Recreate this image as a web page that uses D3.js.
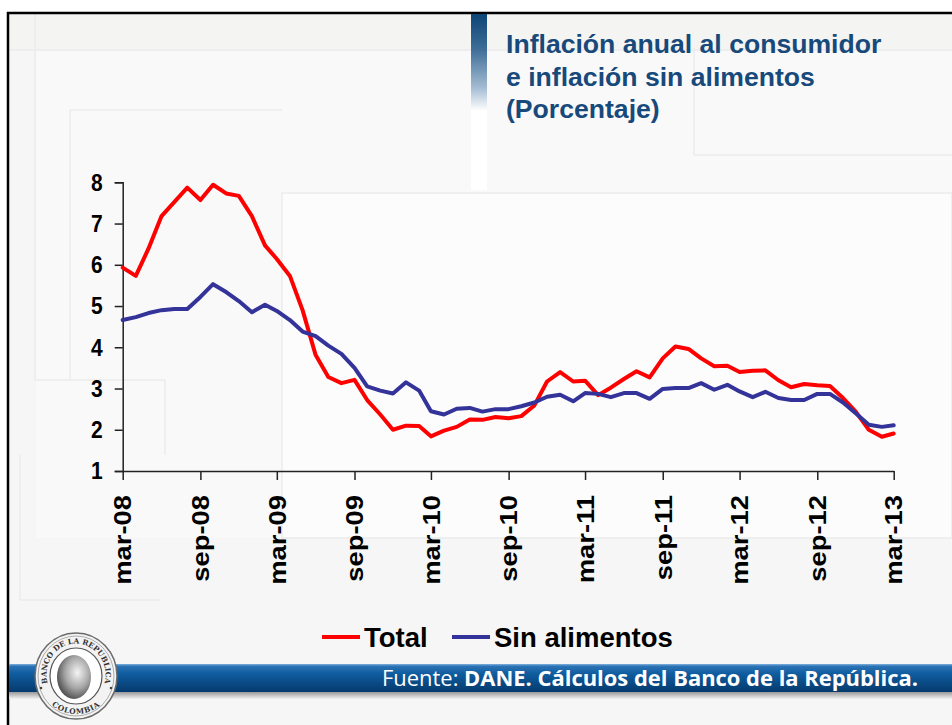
<!DOCTYPE html>
<html>
<head>
<meta charset="utf-8">
<script src="https://cdn.jsdelivr.net/npm/d3@7"></script>
<style>
  html, body { margin: 0; padding: 0; background: #ffffff; }
  svg { display: block; }
</style>
</head>
<body>
<svg id="chart" width="952" height="725"></svg>
<script>
// ---------------- DATA ----------------
const startMonth = new Date(2008, 2, 1);   // mar-08
const endMonth = new Date(2013, 2, 1);     // mar-13
const totalValues = [
  5.93, 5.73, 6.39, 7.18, 7.52, 7.87, 7.57, 7.94, 7.73, 7.67,
  7.18, 6.47, 6.14, 5.73, 4.90, 3.81, 3.28, 3.13, 3.21, 2.72, 2.37, 2.00,
  2.10, 2.09, 1.84, 1.98, 2.07, 2.25, 2.24, 2.31, 2.28, 2.33, 2.59, 3.17,
  3.40, 3.17, 3.19, 2.84, 3.02, 3.23, 3.42, 3.27, 3.73, 4.02, 3.96, 3.73,
  3.54, 3.55, 3.40, 3.43, 3.44, 3.20, 3.03, 3.11, 3.08, 3.06, 2.77, 2.44,
  2.00, 1.83, 1.91
];
const sinAlimentosValues = [
  4.66, 4.73, 4.83, 4.90, 4.93, 4.93, 5.22, 5.53, 5.34, 5.12,
  4.85, 5.03, 4.88, 4.66, 4.38, 4.27, 4.04, 3.84, 3.50, 3.05, 2.95, 2.88,
  3.15, 2.95, 2.45, 2.37, 2.51, 2.53, 2.44, 2.50, 2.50, 2.57, 2.66, 2.80,
  2.85, 2.69, 2.89, 2.87, 2.79, 2.89, 2.89, 2.75, 2.99, 3.01, 3.01, 3.13,
  2.97, 3.09, 2.93, 2.79, 2.92, 2.77, 2.72, 2.72, 2.87, 2.87, 2.66, 2.40,
  2.12, 2.07, 2.11
];
const yTicks = [1, 2, 3, 4, 5, 6, 7, 8];
const xTickLabels = ["mar-08", "sep-08", "mar-09", "sep-09", "mar-10", "sep-10",
                     "mar-11", "sep-11", "mar-12", "sep-12", "mar-13"];
const seriesNames = ["Total", "Sin alimentos"];
const seriesColors = ["#ff0000", "#333399"];
const titleLines = ["Inflación anual al consumidor", "e inflación sin alimentos", "(Porcentaje)"];

// ---------------- SETUP ----------------
const svg = d3.select("#chart");
const W = 952, H = 725;
const months = totalValues.map((_, i) => d3.timeMonth.offset(startMonth, i));
const xTickDates = xTickLabels.map((_, i) => d3.timeMonth.offset(startMonth, 6 * i));

const defs = svg.append("defs");
const tg = defs.append("linearGradient").attr("id", "titleBar").attr("x1", 0).attr("y1", 0).attr("x2", 0).attr("y2", 1);
[[0, "#0b4576"], [0.2, "#3e6d98"], [0.42, "#a4bcd3"], [0.55, "#ffffff"], [1, "#ffffff"]]
  .forEach(s => tg.append("stop").attr("offset", s[0]).attr("stop-color", s[1]));
const fg = defs.append("linearGradient").attr("id", "footBar").attr("x1", 0).attr("y1", 0).attr("x2", 0).attr("y2", 1);
[[0, "#7fb2de"], [0.08, "#2c73b5"], [0.35, "#0f5c9f"], [1, "#053a6c"]]
  .forEach(s => fg.append("stop").attr("offset", s[0]).attr("stop-color", s[1]));
const sg = defs.append("linearGradient").attr("id", "footShadow").attr("x1", 0).attr("y1", 0).attr("x2", 0).attr("y2", 1);
[[0, "#8c8c8c"], [1, "#f2f2f2"]]
  .forEach(s => sg.append("stop").attr("offset", s[0]).attr("stop-color", s[1]));
const rg = defs.append("radialGradient").attr("id", "face").attr("cx", 0.6).attr("cy", 0.4).attr("r", 0.7);
[[0, "#f4f4f4"], [0.5, "#a8a8a8"], [1, "#3a3a3a"]]
  .forEach(s => rg.append("stop").attr("offset", s[0]).attr("stop-color", s[1]));

// ---------------- BACKGROUND ----------------
svg.append("rect").attr("x", 0).attr("y", 0).attr("width", W).attr("height", H).attr("fill", "#ffffff");
svg.append("rect").attr("x", 8).attr("y", 13).attr("width", W - 8).attr("height", H - 13).attr("fill", "#f6f6f6");
svg.append("rect").attr("x", 8).attr("y", 13).attr("width", W - 8).attr("height", 37).attr("fill", "#f4f4f2");
svg.append("rect").attr("x", 36).attr("y", 51).attr("width", W - 36).attr("height", 487).attr("fill", "#f9f9f9");
// faint decorative panels
svg.append("rect").attr("x", 282).attr("y", 193).attr("width", W - 282).attr("height", 345)
  .attr("fill", "#fcfcfc").attr("stroke", "#ebebeb").attr("stroke-width", 1.5);
const deco = [
  [8, 50, W, 50], [35, 13, 35, 380], [694, 48, 694, 155], [694, 155, W, 155],
  [70, 110, 70, 380], [70, 110, 282, 110], [35, 380, 165, 380], [165, 380, 165, 455],
  [20, 455, 20, 600], [20, 600, 160, 600]
];
svg.selectAll("line.deco").data(deco).join("line").attr("class", "deco")
  .attr("x1", d => d[0]).attr("y1", d => d[1]).attr("x2", d => d[2]).attr("y2", d => d[3])
  .attr("stroke", "#ebebeb").attr("stroke-width", 1.5);

// borders
svg.append("line").attr("x1", 7).attr("y1", 13).attr("x2", W).attr("y2", 13).attr("stroke", "#000").attr("stroke-width", 2.5);
svg.append("line").attr("x1", 8).attr("y1", 12).attr("x2", 8).attr("y2", H).attr("stroke", "#000").attr("stroke-width", 2.5);

// ---------------- TITLE ----------------
svg.append("rect").attr("x", 471).attr("y", 14).attr("width", 16).attr("height", 176).attr("fill", "url(#titleBar)");
svg.append("g").selectAll("text").data(titleLines).join("text")
  .attr("x", 506).attr("y", (d, i) => 53 + i * 32.5)
  .attr("font-family", "Liberation Sans, Arial, sans-serif").attr("font-weight", "bold")
  .attr("font-size", 26.6).attr("fill", "#17497b").text(d => d);

// ---------------- SCALES ----------------
const x = d3.scaleTime().domain([startMonth, endMonth]).range([122.7, 893.7]);
const y = d3.scaleLinear().domain([1, 8]).range([471, 182.3]);

// axes
const yAxis = svg.append("g").attr("transform", "translate(122.7,0)")
  .call(d3.axisLeft(y).tickValues(yTicks).tickSize(8).tickPadding(12).tickFormat(d3.format("d")));
yAxis.select(".domain").attr("stroke", "#222").attr("stroke-width", 1.5);
yAxis.selectAll(".tick line").attr("stroke", "#222").attr("stroke-width", 1.5);
yAxis.selectAll(".tick text").attr("font-family", "Liberation Sans, Arial, sans-serif")
  .attr("font-weight", "bold").attr("font-size", 21).attr("fill", "#000")
  .attr("transform", "scale(1,1.15)");

const xAxis = svg.append("g").attr("transform", "translate(0,471)")
  .call(d3.axisBottom(x).tickValues(xTickDates).tickSize(9).tickSizeOuter(0)
        .tickFormat((d, i) => xTickLabels[i]));
xAxis.select(".domain").attr("stroke", "#222").attr("stroke-width", 1.5);
xAxis.selectAll(".tick line").attr("stroke", "#222").attr("stroke-width", 1.5);
xAxis.selectAll(".tick text")
  .attr("font-family", "Liberation Sans, Arial, sans-serif").attr("font-weight", "bold")
  .attr("font-size", 23).attr("fill", "#000")
  .attr("text-anchor", "end").attr("y", 0).attr("dy", "0.36em")
  .attr("transform", "translate(0,24) rotate(-90) scale(1.19,1)");

// ---------------- LINES ----------------
const series = [totalValues, sinAlimentosValues];
const line = d3.line().x((d, i) => x(months[i])).y(d => y(d));
svg.append("g").selectAll("path").data(series).join("path")
  .attr("d", d => line(d)).attr("fill", "none")
  .attr("stroke", (d, i) => seriesColors[i]).attr("stroke-width", 4)
  .attr("stroke-linejoin", "round").attr("stroke-linecap", "round");

// ---------------- LEGEND ----------------
const legendX = [322, 452];
const lg = svg.append("g");
seriesNames.forEach((name, i) => {
  lg.append("line").attr("x1", legendX[i]).attr("x2", legendX[i] + 38).attr("y1", 637).attr("y2", 637)
    .attr("stroke", seriesColors[i]).attr("stroke-width", 4);
  lg.append("text").attr("x", legendX[i] + 42).attr("y", 647)
    .attr("font-family", "Liberation Sans, Arial, sans-serif").attr("font-weight", "bold")
    .attr("font-size", 27.5).attr("fill", "#000").text(name);
});

// ---------------- FOOTER ----------------
svg.append("rect").attr("x", 9).attr("y", 691).attr("width", W - 9).attr("height", 8).attr("fill", "url(#footShadow)");
svg.append("rect").attr("x", 9).attr("y", 664).attr("width", W - 9).attr("height", 28).attr("fill", "url(#footBar)");
const ft = svg.append("text").attr("x", 382).attr("y", 686)
  .attr("font-family", "Open Sans, Noto Sans, sans-serif").attr("font-size", 22).attr("fill", "#ffffff")
  .attr("textLength", 536).attr("lengthAdjust", "spacingAndGlyphs");
ft.append("tspan").text("Fuente: ");
ft.append("tspan").attr("font-weight", "bold").text("DANE. Cálculos del Banco de la República.");

// ---------------- LOGO ----------------
const cx = 76, cy = 676;
const logo = svg.append("g");
logo.append("ellipse").attr("cx", cx).attr("cy", cy).attr("rx", 41).attr("ry", 43)
  .attr("fill", "#f3f3f3").attr("stroke", "#6a6a6a").attr("stroke-width", 1.5);
logo.append("ellipse").attr("cx", cx).attr("cy", cy).attr("rx", 38).attr("ry", 40)
  .attr("fill", "none").attr("stroke", "#9a9a9a").attr("stroke-width", 0.8);
logo.append("ellipse").attr("cx", cx).attr("cy", cy).attr("rx", 26).attr("ry", 28)
  .attr("fill", "#ffffff").attr("stroke", "#555").attr("stroke-width", 1.2);
logo.append("ellipse").attr("cx", cx - 2).attr("cy", cy + 1).attr("rx", 17).attr("ry", 22)
  .attr("fill", "url(#face)");
const rT = 29.5, aT = 30 * Math.PI / 180;
defs.append("path").attr("id", "arcTop")
  .attr("d", `M ${cx - rT * Math.cos(aT)},${cy + rT * Math.sin(aT)} A ${rT} ${rT + 2} 0 1 1 ${cx + rT * Math.cos(aT)},${cy + rT * Math.sin(aT)}`);
const rB = 38, aB = 50 * Math.PI / 180;
defs.append("path").attr("id", "arcBot")
  .attr("d", `M ${cx - rB * Math.cos(aB)},${cy + rB * Math.sin(aB)} A ${rB} ${rB} 0 0 0 ${cx + rB * Math.cos(aB)},${cy + rB * Math.sin(aB)}`);
logo.append("text").attr("font-family", "DejaVu Serif, serif").attr("font-weight", "bold")
  .attr("font-size", 7.4).attr("fill", "#333")
  .append("textPath").attr("href", "#arcTop").attr("startOffset", "50%").attr("text-anchor", "middle")
  .text("BANCO DE LA REPUBLICA");
logo.append("text").attr("font-family", "DejaVu Serif, serif").attr("font-weight", "bold")
  .attr("font-size", 7.4).attr("fill", "#333").attr("letter-spacing", 0.6)
  .append("textPath").attr("href", "#arcBot").attr("startOffset", "50%").attr("text-anchor", "middle")
  .text("COLOMBIA");
[[cx - 35, cy + 12], [cx + 35, cy + 12]].forEach(p =>
  logo.append("circle").attr("cx", p[0]).attr("cy", p[1]).attr("r", 1.3).attr("fill", "#444"));
</script>
</body>
</html>
